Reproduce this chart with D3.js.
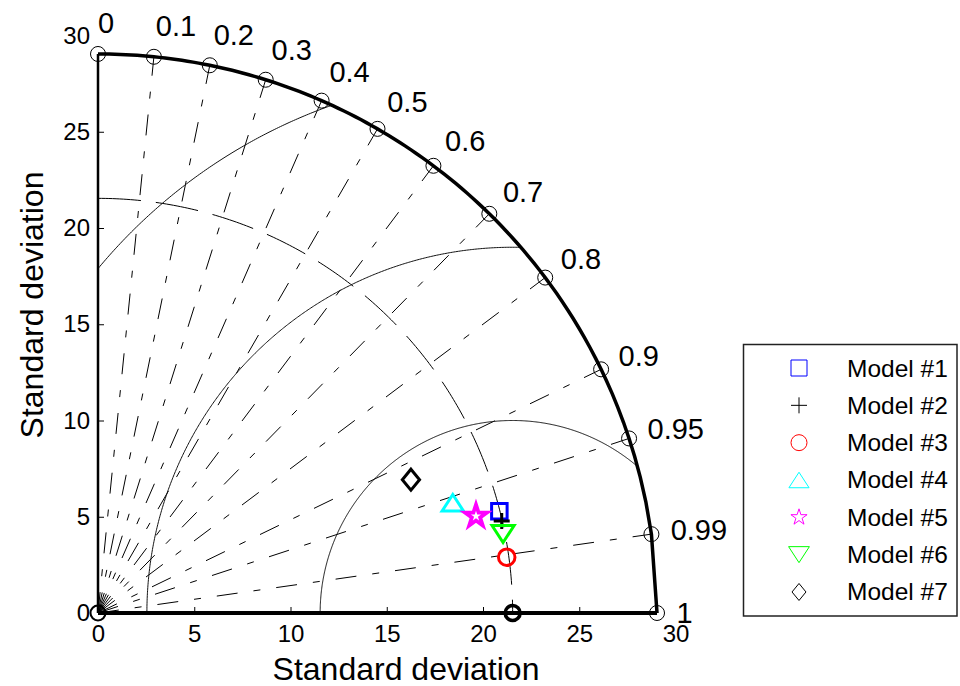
<!DOCTYPE html>
<html><head><meta charset="utf-8">
<script src="https://cdn.jsdelivr.net/npm/d3@7"></script>
<style>
html,body{margin:0;padding:0;background:#fff;}
svg{display:block;font-family:Arial,"Liberation Sans",Helvetica,sans-serif;}
</style></head><body>
<svg id="chart" width="960" height="686"></svg>
<script>
// ---- data ----
const modelNames = ["Model #1", "Model #2", "Model #3", "Model #4", "Model #5", "Model #6", "Model #7"];
const modelStd   = [21.51, 21.51, 21.43, 19.30, 20.27, 21.44, 17.67];
const modelCorr  = [0.9693, 0.975, 0.9908, 0.955, 0.9687, 0.9815, 0.920];
const modelSymbols = ["square", "plus", "circle", "triUp", "star", "triDown", "diamond"];
const modelColors  = ["#0000ff", "#000000", "#ff0000", "#00ffff", "#ff00ff", "#00ff00", "#000000"];
const refStd  = 21.54;
const axisMax = 29.04;
const corrTicks      = [0, 0.1, 0.2, 0.3, 0.4, 0.5, 0.6, 0.7, 0.8, 0.9, 0.95, 0.99, 1];
const corrTickLabels = ["0", "0.1", "0.2", "0.3", "0.4", "0.5", "0.6", "0.7", "0.8", "0.9", "0.95", "0.99", "1"];
const rmsLevels = [10, 19, 28];
const stdTicks  = [0, 5, 10, 15, 20, 25, 30];
const stdTickLabels = ["0", "5", "10", "15", "20", "25", "30"];

// ---- scales ----
const x = d3.scaleLinear().domain([0, 30]).range([98, 675.5]);
const y = d3.scaleLinear().domain([0, 30]).range([613, 35.5]);
const svg = d3.select("#chart");
const line = d3.line().x(d => x(d[0])).y(d => y(d[1]));
const polar = (r, c) => [r * c, r * Math.sqrt(Math.max(0, 1 - c * c))];

// ---- marker shapes (size in px) ----
const shapes = {
  square:  { draw(p, s) { const h = s / 2; p.moveTo(-h, -h); p.lineTo(h, -h); p.lineTo(h, h); p.lineTo(-h, h); p.closePath(); } },
  plus:    { draw(p, s) { const h = s / 2; p.moveTo(-h, 0); p.lineTo(h, 0); p.moveTo(0, -h); p.lineTo(0, h); } },
  circle:  { draw(p, s) { const r = s / 2; p.moveTo(r, 0); p.arc(0, 0, r, 0, 2 * Math.PI); } },
  triUp:   { draw(p, s) { p.moveTo(0, -s / 2); p.lineTo(0.65 * s, s / 2); p.lineTo(-0.65 * s, s / 2); p.closePath(); } },
  triDown: { draw(p, s) { p.moveTo(0, s / 2); p.lineTo(0.65 * s, -s / 2); p.lineTo(-0.65 * s, -s / 2); p.closePath(); } },
  diamond: { draw(p, s) { const w = 0.41 * s, h = s / 2; p.moveTo(0, -h); p.lineTo(w, 0); p.lineTo(0, h); p.lineTo(-w, 0); p.closePath(); } },
  star:    { draw(p, s) {
    const R = s / 2, r = R * 0.382;
    for (let i = 0; i < 10; i++) {
      const rad = i % 2 ? r : R, a = -Math.PI / 2 + i * Math.PI / 5;
      const px = rad * Math.cos(a), py = rad * Math.sin(a);
      i ? p.lineTo(px, py) : p.moveTo(px, py);
    }
    p.closePath();
  } }
};
const plotSize   = { square: 15.5, plus: 16, circle: 16.5, triUp: 16.5, triDown: 17, diamond: 21, star: 23 };
const plotWidth  = { square: 3, plus: 3, circle: 3, triUp: 3, triDown: 3, diamond: 3, star: 3.8 };
const legendSize = { square: 16, plus: 16, circle: 16, triUp: 15.5, triDown: 16, diamond: 17, star: 17 };

// ---- correlation spokes ----
const grid = svg.append("g").attr("fill", "none").attr("stroke", "#000").attr("stroke-width", 1);
grid.selectAll(".spoke").data(corrTicks.filter(c => c > 0 && c < 1)).join("path")
  .attr("class", "spoke")
  .attr("d", c => line([[0, 0], polar(axisMax, c)]))
  .attr("stroke-dasharray", "21,16,7,16");

// ---- reference standard deviation arc ----
const refArc = d3.range(0, 90.01, 0.5).map(a => { const t = (90 - a) * Math.PI / 180; return [refStd * Math.cos(t), refStd * Math.sin(t)]; });
grid.append("path").attr("d", line(refArc)).attr("stroke-dasharray", "43,15");

// ---- centred RMS difference arcs ----
rmsLevels.forEach(r => {
  const pts = d3.range(0, 180.01, 0.25).map(a => {
    const t = a * Math.PI / 180; return [refStd + r * Math.cos(t), r * Math.sin(t)];
  }).filter(d => d[0] >= 0 && d[0] * d[0] + d[1] * d[1] <= axisMax * axisMax);
  grid.append("path").attr("d", line(pts)).attr("stroke", "#111");
});

// ---- outer boundary and axes ----
const outer = d3.range(0, 101).map(i => polar(axisMax, i / 100));
svg.append("path").attr("d", line(outer)).attr("fill", "none").attr("stroke", "#000").attr("stroke-width", 3.5);
svg.append("path").attr("d", line([[0, 0], [0, axisMax]])).attr("stroke", "#000").attr("stroke-width", 2.5);
svg.append("path").attr("d", line([[0, 0], [axisMax, 0]])).attr("stroke", "#000").attr("stroke-width", 4);

// ---- std axes ----
const fmt = v => stdTickLabels[stdTicks.indexOf(v)];
const gx = svg.append("g").attr("transform", `translate(0,${y(0)})`)
  .call(d3.axisBottom(x).tickValues(stdTicks).tickFormat(fmt).tickSizeInner(-6).tickSizeOuter(0).tickPadding(12));
const gy = svg.append("g").attr("transform", `translate(${x(0)},0)`)
  .call(d3.axisLeft(y).tickValues(stdTicks).tickFormat(fmt).tickSizeInner(-6).tickSizeOuter(0).tickPadding(8));
[gx, gy].forEach(g => {
  g.select(".domain").remove();
  g.attr("font-size", 24).attr("font-family", null);
  g.selectAll(".tick line").attr("stroke", "#000").attr("stroke-width", 1)
    .filter(d => d === 0 || d > axisMax).remove();
  g.selectAll(".tick text").attr("fill", "#000");
});

svg.append("text").attr("x", 406).attr("y", 680).attr("text-anchor", "middle")
  .attr("font-size", 32).text("Standard deviation");
svg.append("text").attr("transform", "translate(43,305) rotate(-90)").attr("text-anchor", "middle")
  .attr("font-size", 32).text("Standard deviation");

// ---- correlation markers and labels ----
svg.append("g").selectAll("circle").data(corrTicks).join("circle")
  .attr("cx", c => x(polar(axisMax, c)[0])).attr("cy", c => y(polar(axisMax, c)[1]))
  .attr("r", 7.5).attr("fill", "none").attr("stroke", "#000").attr("stroke-width", 1);
svg.append("g").selectAll("text").data(corrTicks).join("text")
  .attr("x", c => x(30.05 * c))
  .attr("y", c => y(30.65 * Math.sqrt(1 - c * c)))
  .attr("dominant-baseline", "central")
  .attr("font-size", 29)
  .text((c, i) => corrTickLabels[i]);

// origin and reference points
svg.append("circle").attr("cx", x(0)).attr("cy", y(0)).attr("r", 7.5)
  .attr("fill", "none").attr("stroke", "#000").attr("stroke-width", 2);
svg.append("circle").attr("cx", x(refStd)).attr("cy", y(0)).attr("r", 7.5)
  .attr("fill", "none").attr("stroke", "#000").attr("stroke-width", 3.5);

// ---- models ----
const sym = d3.symbol();
svg.append("g").selectAll("path").data(modelNames).join("path")
  .attr("transform", (d, i) => { const p = polar(modelStd[i], modelCorr[i]); return `translate(${x(p[0])},${y(p[1])})`; })
  .attr("d", (d, i) => sym.type(shapes[modelSymbols[i]]).size(plotSize[modelSymbols[i]])())
  .attr("fill", "none")
  .attr("stroke", (d, i) => modelColors[i])
  .attr("stroke-width", (d, i) => plotWidth[modelSymbols[i]])
  .attr("stroke-linejoin", "miter");

// ---- legend ----
const lg = svg.append("g");
lg.append("rect").attr("x", 743.5).attr("y", 344.5).attr("width", 213.5).attr("height", 271.5)
  .attr("fill", "#fff").attr("stroke", "#222").attr("stroke-width", 1.5);
const rowY = i => 368 + i * 37.33;
lg.selectAll("path").data(modelNames).join("path")
  .attr("transform", (d, i) => `translate(799,${rowY(i)})`)
  .attr("d", (d, i) => sym.type(shapes[modelSymbols[i]]).size(legendSize[modelSymbols[i]])())
  .attr("fill", "none")
  .attr("stroke", (d, i) => modelColors[i])
  .attr("stroke-width", 1);
lg.selectAll("text").data(modelNames).join("text")
  .attr("x", 847).attr("y", (d, i) => rowY(i))
  .attr("dominant-baseline", "central")
  .attr("font-size", 24.5)
  .text(d => d);
</script>
</body></html>
